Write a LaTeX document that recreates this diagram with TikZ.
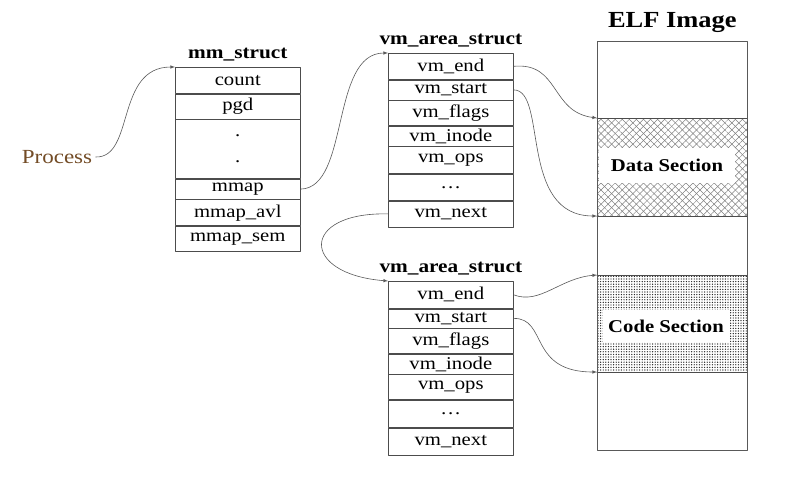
\documentclass[tikz,border=0pt]{standalone}
\usepackage{fontspec}
\setmainfont{Liberation Serif}[FakeStretch=1.15]
\usepackage{tikz}
\usetikzlibrary{%
  arrows,%
  positioning,%
  patterns.meta
}

\begin{document}
\begin{tikzpicture}[
    >=latex,x=1pt,y=-1pt,
    line join=round,line cap=round,
    field/.style={rectangle,draw=black!70,line width=0.6pt,minimum width=125pt,
        inner sep=0pt,font=\fontsize{18}{18}\selectfont},
    title/.style={font=\bfseries\fontsize{18.5}{18.5}\selectfont},
    link/.style={->,draw=black!65,line width=0.6pt},
    section/.style={fill=white,inner sep=0pt,font=\bfseries\fontsize{18}{18}\selectfont},
    node distance=0pt
  ]
    \useasboundingbox (0,0) rectangle (803,487);

    % mm_struct
    \node [field,minimum height=26pt,anchor=north west] (count) at (175,67) {count};
    \node [field,minimum height=25pt,below=of count] (pgd)  {pgd};
    \node [field,minimum height=59pt,below=of pgd,align=center] (dots) {.\\[8pt].};
    \node [field,minimum height=20pt,below=of dots] (mmap) {mmap};
    \node [field,minimum height=26pt,below=of mmap] (avl)  {mmap\_avl};
    \node [field,minimum height=25pt,below=of avl]  (sem)  {mmap\_sem};
    \node [title,above=2pt of count] {mm\_struct};

    \node [font=\fontsize{20}{20}\selectfont,text=brown!60!black] (process) at (57,157) {Process};

    % first vm_area_struct
    \node [field,minimum height=26pt,anchor=north west] (end1) at (388,53) {vm\_end};
    \node [field,minimum height=20pt,below=of end1]   (start1) {vm\_start};
    \node [field,minimum height=25pt,below=of start1] (flags1) {vm\_flags};
    \node [field,minimum height=20pt,below=of flags1] (inode1) {vm\_inode};
    \node [field,minimum height=27pt,below=of inode1] (ops1)   {vm\_ops};
    \node [field,minimum height=26pt,below=of ops1]   (etc1)   {\dots};
    \node [field,minimum height=26pt,below=of etc1]   (next1)  {vm\_next};
    \node [title,above=2pt of end1] {vm\_area\_struct};

    % second vm_area_struct
    \node [field,minimum height=27pt,anchor=north west] (end2) at (388,281) {vm\_end};
    \node [field,minimum height=19pt,below=of end2]   (start2) {vm\_start};
    \node [field,minimum height=25pt,below=of start2] (flags2) {vm\_flags};
    \node [field,minimum height=20pt,below=of flags2] (inode2) {vm\_inode};
    \node [field,minimum height=25pt,below=of inode2] (ops2)   {vm\_ops};
    \node [field,minimum height=27pt,below=of ops2]   (etc2)   {\dots};
    \node [field,minimum height=27pt,below=of etc2]   (next2)  {vm\_next};
    \node [title,above=2pt of end2] {vm\_area\_struct};

    % ELF image
    \fill [pattern={Lines[angle=45,distance=5pt,line width=0.5pt]},pattern color=black!50]
        (597,118) rectangle (747,216);
    \fill [pattern={Lines[angle=-45,distance=5pt,line width=0.5pt]},pattern color=black!50]
        (597,118) rectangle (747,216);
    \fill [pattern={Dots[distance=2.6pt,radius=0.7pt]},pattern color=black!85]
        (597,275) rectangle (747,372);
    \draw [black!70,line width=0.6pt] (597,118) -- (747,118) (597,216) -- (747,216)
        (597,275) -- (747,275) (597,372) -- (747,372);
    \node [draw=black!65,line width=0.6pt,anchor=north west,minimum width=150pt,
        minimum height=409pt,inner sep=0pt] (elf) at (597,41) {};
    \node [font=\bfseries\fontsize{23}{23}\selectfont,above=5pt of elf] {ELF Image};
    \coordinate (data top) at (597,118);
    \coordinate (data bottom) at (597,216);
    \coordinate (code top) at (597,275);
    \coordinate (code bottom) at (597,372);
    \node [section,minimum width=136pt,minimum height=35pt] (data) at (667,165) {Data Section};
    \node [section,minimum width=127pt,minimum height=32pt] (code) at (666,326) {Code Section};

    % pointers
    \draw [link] (process.east) .. controls (135,158) and (115,67) .. (count.north west);
    \draw [link] (mmap.east) .. controls (350,188) and (330,53) .. (end1.north west);
    \draw [link] (end1.east) .. controls (560,62) and (550,112) .. (data top);
    \draw [link] (start1.east) .. controls (548,90) and (518,216) .. (data bottom);
    \draw [link] (next1.west) .. controls (300,212) and (300,274) .. (end2.north west);
    \draw [link] (end2.east) .. controls (540,305) and (560,278) .. (code top);
    \draw [link] (start2.east) .. controls (548,318) and (528,372) .. (code bottom);
\end{tikzpicture}
\end{document}
